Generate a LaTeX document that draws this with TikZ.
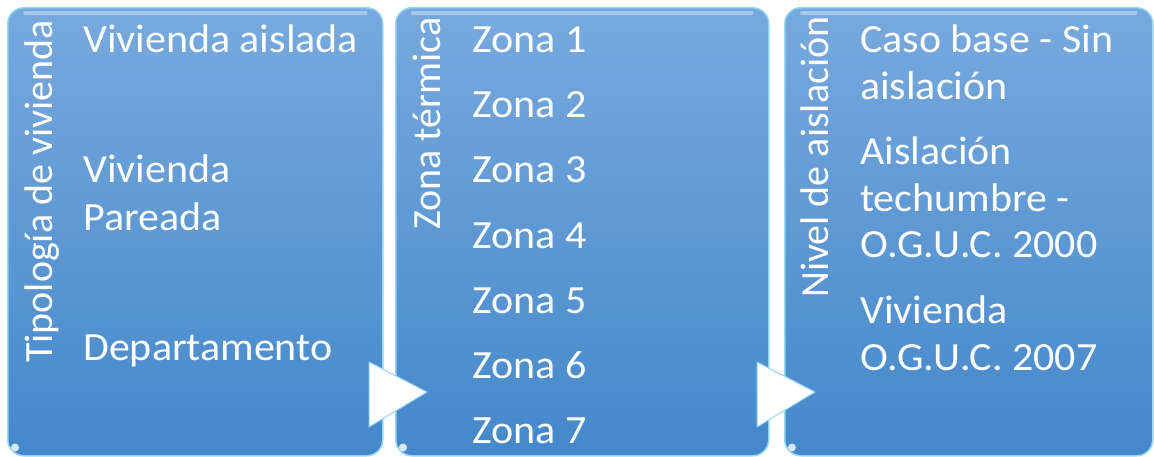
\documentclass[tikz,border=0pt]{standalone}
\usepackage{fontspec}
\setmainfont{Carlito}
\usepackage{tikz}
\usetikzlibrary{arrows.meta}
\usepackage[dvipsnames,svgnames,x11names]{xcolor}

\definecolor{panelTop}{RGB}{120,169,221}
\definecolor{panelBottom}{RGB}{68,136,202}
\definecolor{panelEdge}{RGB}{150,215,240}

\begin{document}
\begin{tikzpicture}[
    x=1pt, y=-1pt,
    panel/.style={
        rounded corners=16pt,
        top color=panelTop, bottom color=panelBottom,
        draw=panelEdge, line width=1.5pt,
        minimum height=448pt, inner sep=0pt, anchor=north west
    },
    title/.style={rotate=90, anchor=base west, inner sep=0pt,
        text=white, font=\fontsize{40}{47}\selectfont},
    item/.style={anchor=base west, inner sep=0pt, xscale=1.05,
        text=white, font=\fontsize{40}{47}\selectfont},
    pointer/.style={fill=white, draw=panelEdge, line width=1pt, line join=round}
]

\useasboundingbox (0,0) rectangle (1154,457);

% Recuadros
\node[panel, minimum width=375pt] (tipo) at (7,7) {};
\node[panel, minimum width=373pt] (zona) at (395,7) {};
\node[panel, minimum width=368pt] (nivel) at (784,7) {};

% Brillos
\foreach \p in {tipo, zona, nivel} {
    \draw[white, opacity=0.35, line width=4pt, line cap=round]
        ([xshift=18pt, yshift=-6pt]\p.north west) -- ([xshift=-18pt, yshift=-6pt]\p.north east);
    \fill[white, opacity=0.8] ([xshift=8pt, yshift=9pt]\p.south west) circle (4pt);
}

% Flechas
\coordinate (f1) at (369,362);
\coordinate (f2) at (757,362);
\foreach \f in {f1, f2}
    \draw[pointer] (\f) -- ++(58,30) -- ++(-58,35) -- cycle;

% Titulos
\node[title] (ttipo) at (52,363) {Tipología de vivienda};
\node[title] (tzona) at (440,230) {Zona térmica};
\node[title] (tnivel) at (828,298) {Nivel de aislación};

% Tipologia
\node[item] (aislada) at (83,53) {Vivienda aislada};
\node[item] (pareada1) at (83,183) {Vivienda};
\node[item] (pareada2) at (83,230) {Pareada};
\node[item] (depto) at (83,360) {Departamento};

% Zonas
\foreach \i in {1,...,7}
    \node[item] (z\i) at (472,{53+(\i-1)*65}) {Zona \i};

% Niveles
\node[item] (base1) at (860,53) {Caso base - Sin};
\node[item] (base2) at (860,100) {aislación};
\node[item] (techo1) at (860,165) {Aislación};
\node[item] (techo2) at (860,212) {techumbre -};
\node[item] (techo3) at (860,258) {O.G.U.C. 2000};
\node[item] (ogu1) at (860,323) {Vivienda};
\node[item] (ogu2) at (860,370) {O.G.U.C. 2007};

\end{tikzpicture}
\end{document}
